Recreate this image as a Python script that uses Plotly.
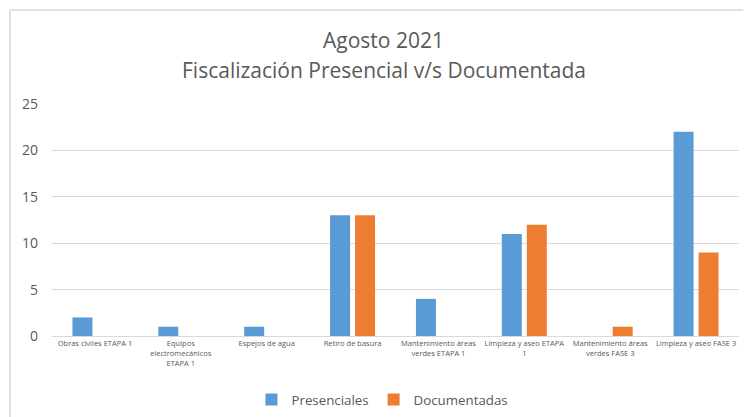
import plotly.graph_objects as go

categories = [
    "Obras civiles ETAPA 1",
    "Equipos<br>electromecánicos<br>ETAPA 1",
    "Espejos de agua",
    "Retiro de basura",
    "Mantenimiento áreas<br>verdes ETAPA 1",
    "Limpieza y aseo ETAPA<br>1",
    "Mantenimiento áreas<br>verdes FASE 3",
    "Limpieza y aseo FASE 3",
]
presenciales = [2, 1, 1, 13, 4, 11, 0, 22]
documentadas = [0, 0, 0, 13, 0, 12, 1, 9]
title_line1 = "Agosto 2021"
title_line2 = "Fiscalización Presencial v/s Documentada"

FONT = "Open Sans"
GRAY = "#595959"

fig = go.Figure()
fig.add_trace(go.Bar(name="Presenciales", x=categories, y=presenciales,
                     marker=dict(color="#5B9BD5", line=dict(width=0))))
fig.add_trace(go.Bar(name="Documentadas", x=categories, y=documentadas,
                     marker=dict(color="#ED7D31", line=dict(width=0))))

# page has an 8px body margin, so the figure is drawn 8px down/right
fig.update_layout(
    width=743, height=409,
    margin=dict(l=44, r=12, t=96, b=81, autoexpand=False),
    paper_bgcolor="white", plot_bgcolor="white",
    font=dict(family=FONT, color=GRAY),
    barmode="group", bargap=0.418, bargroupgap=0.2,
    showlegend=True,
    legend=dict(orientation="h", x=0.481, xanchor="center", y=-0.275, yanchor="middle",
                font=dict(size=13.3, color=GRAY), itemwidth=30, traceorder="normal"),
    xaxis=dict(showline=True, linecolor="#D9D9D9", linewidth=1, ticks="",
               tickfont=dict(size=7.5, color=GRAY), tickangle=0, showgrid=False,
               automargin=False),
    yaxis=dict(range=[0, 25], dtick=5, showgrid=True, gridcolor="#D9D9D9", gridwidth=1,
               zeroline=False, showline=False, ticks="", ticklabelstandoff=13,
               tickfont=dict(size=14, color=GRAY), automargin=False),
    annotations=[
        dict(text=title_line1, xref="paper", yref="paper", x=0.483, y=(336 - 40) / 232,
             xanchor="center", yanchor="middle", showarrow=False,
             font=dict(size=21, color=GRAY)),
        dict(text=title_line2, xref="paper", yref="paper", x=0.483, y=(336 - 70) / 232,
             xanchor="center", yanchor="middle", showarrow=False,
             font=dict(size=21, color=GRAY)),
    ],
    shapes=[dict(type="rect", xref="paper", yref="paper",
                 x0=(10 - 52) / 687, x1=1.1, y0=-0.5, y1=(336 - 10) / 232,
                 line=dict(color="#D9D9D9", width=1.5), layer="below")],
)

fig.write_html("out.html")
